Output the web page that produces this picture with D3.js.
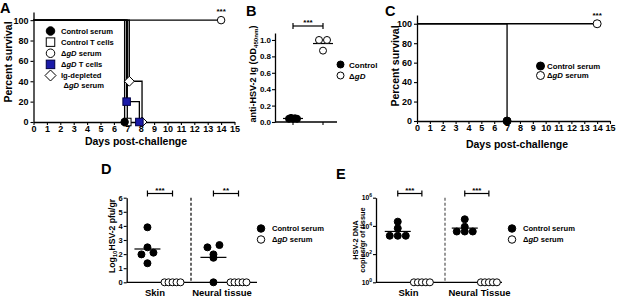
<!DOCTYPE html>
<html>
<head>
<meta charset="utf-8">
<script src="https://cdn.jsdelivr.net/npm/d3@7"></script>
<style>
  body { margin: 0; background: #fff; }
  svg text { font-family: "Liberation Sans", Arial, sans-serif; font-weight: bold; fill: #000; }
</style>
</head>
<body>
<svg id="fig" width="617" height="298"></svg>
<script>
// ---- data ----
var dayTicks = d3.range(0, 16);
var survTicks = [0, 20, 40, 60, 80, 100];

// panel A: survival steps [day, percent]
var aControlSerum = [[0, 100], [6.8, 0]];
var aControlT = [[0, 100], [7.0, 0]];
var aDgdSerum = [[0, 100], [14, 100]];
var aDgdT = [[0, 100], [6.95, 20], [7.9, 0]];
var aIgDepleted = [[0, 100], [7.15, 40], [8.1, 0]];

// panel B: anti-HSV-2 Ig OD450
var bGroups = ["Control", "ΔgD"];
var bControl = [0.04, 0.05, 0.04, 0.045, 0.04];
var bDgd = [1.0, 0.87, 1.0];
var bTicks = [0, 0.2, 0.4, 0.6, 0.8, 1.0];

// panel C: survival
var cControl = [[0, 100], [7, 0]];
var cDgd = [[0, 100], [14, 100]];

// panel D: log10 pfu/gr
var tissuesD = ["Skin", "Neural tissue"];
var dSkinControl = [3.9, 2.48, 1.98, 2.1, 1.35];
var dSkinDgd = [0, 0, 0, 0, 0];
var dNeuralControl = [2.48, 1.98, 2.64, 1.74, 0];
var dNeuralDgd = [0, 0, 0, 0, 0];
var dTicks = [0, 1, 2, 3, 4, 5, 6];

// panel E: HSV-2 DNA copies/gr
var tissuesE = ["Skin", "Neural Tissue"];
var eSkinControl = [20000, 2000, 2000, 2000, 6800];
var eSkinDgd = [1, 1, 1, 1, 1];
var eNeuralControl = [29500, 4000, 4000, 4000, 8700];
var eNeuralDgd = [1, 1, 1, 1, 1];
var eTicks = [1, 100, 1e4, 1e6];

var serumGroups = ["Control serum", "ΔgD serum"];

// ---- helpers ----
var svg = d3.select("#fig");
var FONT = '"Liberation Sans", Arial, sans-serif';
var BLUE = "#1a1aa8";

function styleAxis(g, fs) {
  g.attr("font-family", FONT).attr("font-size", fs).attr("font-weight", "bold");
  g.select(".domain").attr("stroke-width", 1.3);
  g.selectAll(".tick line").attr("stroke-width", 1.1);
}

function mark(g, kind, x, y, s) {
  var p;
  if (kind == "dot" || kind == "ring") {
    p = g.append("circle").attr("cx", x).attr("cy", y).attr("r", s / 2)
      .attr("fill", kind == "dot" ? "#000" : "#fff").attr("stroke", "#000").attr("stroke-width", 1);
  } else if (kind == "box" || kind == "bluebox") {
    p = g.append("rect").attr("x", x - s / 2).attr("y", y - s / 2).attr("width", s).attr("height", s)
      .attr("fill", kind == "box" ? "#fff" : BLUE).attr("stroke", kind == "box" ? "#000" : "#000044").attr("stroke-width", 1);
  } else if (kind == "diamond") {
    var h = s * 0.55;
    p = g.append("path").attr("d", "M" + x + "," + (y - h) + "L" + (x + h) + "," + y + "L" + x + "," + (y + h) + "L" + (x - h) + "," + y + "Z")
      .attr("fill", "#fff").attr("stroke", "#000").attr("stroke-width", 1);
  }
  return p;
}

// serum label with italic gD
function serumText(t, label) {
  if (label.indexOf("ΔgD") == 0) {
    t.append("tspan").text("Δ");
    t.append("tspan").attr("font-style", "italic").text("gD");
    var rest = label.slice(3);
    if (rest) t.append("tspan").text(rest);
  } else {
    t.text(label);
  }
}

// spread points of a group into rows, centred on cx
function layoutRows(vals, y, cx, rowH, sMax, maxW) {
  var pts = vals.map(function(v) { return {v: v, y: y(v)}; });
  var rows = d3.group(pts, function(p) { return Math.round(p.y / rowH); });
  rows.forEach(function(r) {
    var n = r.length;
    var s = n > 1 ? Math.min(sMax, maxW / (n - 1)) : 0;
    r.forEach(function(p, i) { p.x = cx + (i - (n - 1) / 2) * s; });
  });
  return pts;
}

function bracket(g, x1, x2, y, stars) {
  g.append("line").attr("x1", x1).attr("x2", x2).attr("y1", y).attr("y2", y).attr("stroke", "#000").attr("stroke-width", 1.2);
  [x1, x2].forEach(function(x) {
    g.append("line").attr("x1", x).attr("x2", x).attr("y1", y - 3).attr("y2", y + 3).attr("stroke", "#000").attr("stroke-width", 1.2);
  });
  g.append("text").attr("x", (x1 + x2) / 2).attr("y", y - 1).attr("text-anchor", "middle")
    .attr("font-size", 8).attr("font-weight", "normal").text(stars);
}

function panelLabel(x, y, t) {
  svg.append("text").attr("x", x).attr("y", y).attr("font-size", 14.5).text(t);
}

// ================= Panel A =================
var xA = d3.scaleLinear().domain([0, 15]).range([33.5, 234.5]);
var yA = d3.scaleLinear().domain([0, 108]).range([122, 12]);
var gA = svg.append("g");
panelLabel(0, 12.5, "A");

gA.append("g").attr("transform", "translate(0," + yA(0) + ")")
  .call(d3.axisBottom(xA).tickValues(dayTicks).tickSize(3).tickSizeOuter(0).tickPadding(1))
  .call(styleAxis, 9);
gA.append("g").attr("transform", "translate(" + xA(0) + ",0)")
  .call(d3.axisLeft(yA).tickValues(survTicks).tickSize(3).tickSizeOuter(0).tickPadding(2))
  .call(styleAxis, 9);
gA.append("text").attr("transform", "translate(12," + 62 + ") rotate(-90)").attr("text-anchor", "middle")
  .attr("font-size", 10.5).text("Percent survival");
gA.append("text").attr("x", 136).attr("y", 145).attr("text-anchor", "middle").attr("font-size", 10.5).text("Days post-challenge");

var stepA = d3.line().curve(d3.curveStepAfter).x(function(d) { return xA(d[0]); }).y(function(d) { return yA(d[1]); });

// grey overlap band between the nearly coincident drops
gA.append("rect").attr("x", xA(6.85)).attr("y", yA(100)).attr("width", xA(7.12) - xA(6.85)).attr("height", yA(40) - yA(100))
  .attr("fill", "#c4c4c4");

var seriesA = [
  {pts: aDgdSerum, kind: "ring"},
  {pts: aIgDepleted, kind: "diamond"},
  {pts: aDgdT, kind: "bluebox"},
  {pts: aControlT, kind: "box"},
  {pts: aControlSerum, kind: "dot"}
];
seriesA.forEach(function(s) {
  gA.append("path").attr("d", stepA(s.pts)).attr("fill", "none").attr("stroke", "#000").attr("stroke-width", 1.3);
});
seriesA.forEach(function(s) {
  s.pts.slice(1).forEach(function(p) {
    mark(gA, s.kind, xA(p[0]), yA(p[1]), s.kind == "diamond" ? 9 : 7.5);
  });
});
gA.append("text").attr("x", xA(14)).attr("y", yA(100) - 6).attr("text-anchor", "middle").attr("font-size", 8).attr("font-weight", "normal").text("***");

var legA = [
  {kind: "dot", label: "Control serum"},
  {kind: "box", label: "Control T cells"},
  {kind: "ring", label: "ΔgD serum"},
  {kind: "bluebox", label: "ΔgD T cells"},
  {kind: "diamond", label: "Ig-depleted"}
];
var legAy = d3.scalePoint().domain(d3.range(legA.length)).range([31, 75.5]);
legA.forEach(function(l, i) {
  mark(gA, l.kind, 50.5, legAy(i), l.kind == "diamond" ? 10 : 8.5);
  var t = gA.append("text").attr("x", 61).attr("y", legAy(i) + 2.7).attr("font-size", 7.6);
  serumText(t, l.label);
});
serumText(gA.append("text").attr("x", 63.5).attr("y", 88).attr("font-size", 7.6), "ΔgD serum");

// ================= Panel B =================
var xB = d3.scalePoint().domain(bGroups).range([293, 323]);
var yB = d3.scaleLinear().domain([0, 1.085]).range([122, 33]);
var gB = svg.append("g");
panelLabel(246, 16, "B");
gB.append("g").attr("transform", "translate(275,0)")
  .call(d3.axisLeft(yB).tickValues(bTicks).tickFormat(d3.format(".1f")).tickSize(3).tickSizeOuter(0).tickPadding(1))
  .call(styleAxis, 8);
gB.append("line").attr("x1", 275).attr("x2", 337).attr("y1", yB(0)).attr("y2", yB(0)).attr("stroke", "#000").attr("stroke-width", 1.3);
bGroups.forEach(function(g) {
  gB.append("line").attr("x1", xB(g)).attr("x2", xB(g)).attr("y1", yB(0)).attr("y2", yB(0) + 3).attr("stroke", "#000").attr("stroke-width", 1.1);
});
var yt = gB.append("text").attr("transform", "translate(256,74) rotate(-90)").attr("text-anchor", "middle").attr("font-size", 9);
yt.append("tspan").text("anti-HSV-2 Ig (OD");
yt.append("tspan").attr("font-size", 6.2).attr("dy", 2.3).text("450nm");
yt.append("tspan").attr("dy", -2.3).text(")");

[[bControl, "dot", bGroups[0]], [bDgd, "ring", bGroups[1]]].forEach(function(s) {
  var pts = layoutRows(s[0], yB, xB(s[2]), 8, 11, 8);
  var m = d3.mean(s[0]);
  gB.append("line").attr("x1", xB(s[2]) - 10).attr("x2", xB(s[2]) + 10).attr("y1", yB(m)).attr("y2", yB(m)).attr("stroke", "#000").attr("stroke-width", 1.2);
  pts.forEach(function(p) { mark(gB, s[1], p.x, p.y, 7); });
});
bracket(gB, xB(bGroups[0]), xB(bGroups[1]), 26, "***");
mark(gB, "dot", 340.5, 64.5, 7);
mark(gB, "ring", 340.5, 75.5, 7);
gB.append("text").attr("x", 349).attr("y", 67.5).attr("font-size", 8).text("Control");
serumText(gB.append("text").attr("x", 349).attr("y", 78.5).attr("font-size", 8), "ΔgD");

// ================= Panel C =================
var xC = d3.scaleLinear().domain([0, 15]).range([417, 610]);
var yC = d3.scaleLinear().domain([0, 109]).range([121, 15]);
var gC = svg.append("g");
panelLabel(385, 16, "C");
gC.append("g").attr("transform", "translate(0," + yC(0) + ")")
  .call(d3.axisBottom(xC).tickValues(dayTicks).tickSize(3).tickSizeOuter(0).tickPadding(1))
  .call(styleAxis, 9);
gC.append("g").attr("transform", "translate(" + xC(0) + ",0)")
  .call(d3.axisLeft(yC).tickValues(survTicks).tickSize(3).tickSizeOuter(0).tickPadding(2))
  .call(styleAxis, 9);
gC.append("text").attr("transform", "translate(399,66) rotate(-90)").attr("text-anchor", "middle").attr("font-size", 10.5).text("Percent survival");
gC.append("text").attr("x", 517).attr("y", 148).attr("text-anchor", "middle").attr("font-size", 10.5).text("Days post-challenge");
var stepC = d3.line().curve(d3.curveStepAfter).x(function(d) { return xC(d[0]); }).y(function(d) { return yC(d[1]); });
[[cDgd, "ring"], [cControl, "dot"]].forEach(function(s) {
  gC.append("path").attr("d", stepC(s[0])).attr("fill", "none").attr("stroke", "#000").attr("stroke-width", 1.3);
});
[[cDgd, "ring"], [cControl, "dot"]].forEach(function(s) {
  s[0].slice(1).forEach(function(p) { mark(gC, s[1], xC(p[0]), yC(p[1]), 8); });
});
gC.append("text").attr("x", xC(14)).attr("y", yC(100) - 6).attr("text-anchor", "middle").attr("font-size", 8).attr("font-weight", "normal").text("***");
mark(gC, "dot", 540.5, 66, 8);
mark(gC, "ring", 540.5, 75.5, 8);
gC.append("text").attr("x", 547).attr("y", 68.8).attr("font-size", 7.8).text("Control serum");
serumText(gC.append("text").attr("x", 547).attr("y", 78.3).attr("font-size", 7.8), "ΔgD serum");

// ================= Panels D & E (tissue scatter) =================
function tissuePanel(opt) {
  var g = svg.append("g");
  var outer = d3.scaleBand().domain(opt.tissues).range(opt.range);
  var inner = d3.scalePoint().domain(serumGroups).range([opt.frac[0] * outer.bandwidth(), opt.frac[1] * outer.bandwidth()]);
  var y = opt.y;
  var ax = g.append("g").attr("transform", "translate(" + opt.axisX + ",0)")
    .call(d3.axisLeft(y).tickValues(opt.ticks).tickSize(3).tickSizeOuter(0).tickPadding(1).tickFormat(opt.fmt))
    .call(styleAxis, opt.tickFont);
  if (opt.sup) {
    ax.selectAll(".tick text").text(null).each(function(d) {
      var t = d3.select(this);
      t.append("tspan").text("10");
      t.append("tspan").attr("dy", -3).attr("font-size", 5).text(Math.round(Math.log10(d)));
    });
  }
  g.append("line").attr("x1", opt.axisX).attr("x2", opt.axisEnd).attr("y1", y.range()[0]).attr("y2", y.range()[0])
    .attr("stroke", "#000").attr("stroke-width", 1.3);
  var split = opt.range[0] + outer.bandwidth() + opt.splitShift;
  g.append("line").attr("x1", split).attr("x2", split).attr("y1", y.range()[1]).attr("y2", y.range()[0])
    .attr("stroke", opt.dashColor).attr("stroke-width", 1.2).attr("stroke-dasharray", "3,2");
  opt.tissues.forEach(function(tis, ti) {
    g.append("text").attr("x", outer(tis) + outer.bandwidth() / 2 + opt.labelShift[ti]).attr("y", 296).attr("text-anchor", "middle").attr("font-size", 9.5).text(tis);
    var sets = opt.data[ti];
    serumGroups.forEach(function(sg, si) {
      var cx = outer(tis) + inner(sg);
      var pts = layoutRows(sets[si], y, cx, 7, 12, 16);
      if (si == 0) {
        var m = opt.log ? Math.pow(10, d3.mean(sets[si], function(v) { return Math.log10(v); })) : d3.mean(sets[si]);
        g.append("line").attr("x1", cx - 13).attr("x2", cx + 13).attr("y1", y(m)).attr("y2", y(m)).attr("stroke", "#000").attr("stroke-width", 1.2);
      }
      pts.forEach(function(p) { mark(g, si == 0 ? "dot" : "ring", p.x, p.y, 7); });
    });
    bracket(g, outer(tis) + inner(serumGroups[0]), outer(tis) + inner(serumGroups[1]), 193.5, opt.stars[ti]);
  });
  mark(g, "dot", opt.legX, 228.5, 7.5);
  mark(g, "ring", opt.legX, 239.5, 7.5);
  g.append("text").attr("x", opt.legX + 11).attr("y", 231.3).attr("font-size", 7.6).text(serumGroups[0]);
  serumText(g.append("text").attr("x", opt.legX + 11).attr("y", 242.3).attr("font-size", 7.6), serumGroups[1]);
  return g;
}

var yD = d3.scaleLinear().domain([0, 6]).range([282.3, 197.7]);
var gD = tissuePanel({
  tissues: tissuesD, range: [125, 257], frac: [0.34, 0.72], y: yD, ticks: dTicks, fmt: d3.format("d"), tickFont: 7.5,
  axisX: 126.7, axisEnd: 257,
  data: [[dSkinControl, dSkinDgd], [dNeuralControl, dNeuralDgd]], stars: ["***", "**"],
  dashColor: "#000", splitShift: 0, labelShift: [-3, -2], legX: 261
});
panelLabel(101, 174, "D");
var dt = gD.append("text").attr("transform", "translate(114.5,236) rotate(-90)").attr("text-anchor", "middle").attr("font-size", 8.6);
dt.append("tspan").text("Log");
dt.append("tspan").attr("font-size", 6).attr("dy", 2.5).text("10");
dt.append("tspan").attr("dy", -2.5).text("HSV-2 pfu/gr");

var yE = d3.scaleLog().domain([1, 1e6]).range([282.3, 197.7]);
var gE = tissuePanel({
  tissues: tissuesE, range: [379, 513], frac: [0.28, 0.64], y: yE, ticks: eTicks, fmt: null, tickFont: 6.8,
  axisX: 376, axisEnd: 502, log: true, sup: true,
  data: [[eSkinControl, eSkinDgd], [eNeuralControl, eNeuralDgd]], stars: ["***", "***"],
  dashColor: "#555", splitShift: -1, labelShift: [-4, 0], legX: 512
});
panelLabel(336, 179, "E");
gE.append("text").attr("transform", "translate(357.5,240) rotate(-90)").attr("text-anchor", "middle").attr("font-size", 7.4).text("HSV-2 DNA");
gE.append("text").attr("transform", "translate(364.5,240) rotate(-90)").attr("text-anchor", "middle").attr("font-size", 7.4).text("copies/gr of tissue");
</script>
</body>
</html>
